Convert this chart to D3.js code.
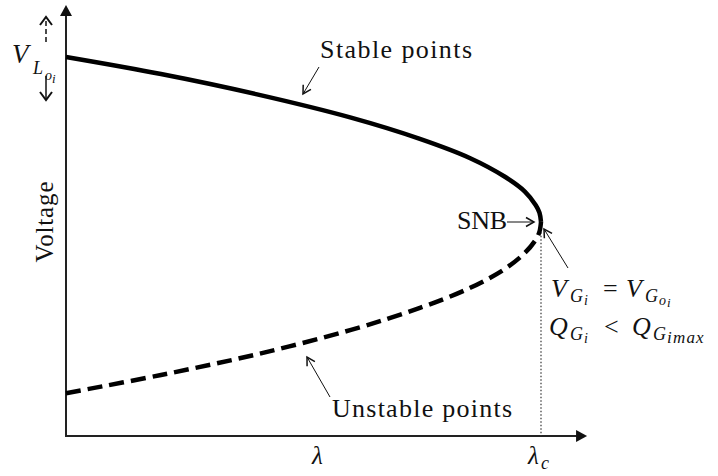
<!DOCTYPE html>
<html>
<head>
<meta charset="utf-8">
<script src="https://cdn.jsdelivr.net/npm/d3@7"></script>
<style>
  body { margin: 0; background: #fff; }
  svg { display: block; font-family: "Liberation Serif", "DejaVu Serif", serif; }
</style>
</head>
<body>
<svg id="chart" width="718" height="476"></svg>
<script>
// upper (stable) branch of the PV curve
var lambdaStable  = [0, 0.2, 0.4, 0.6, 0.745, 0.851, 0.924, 0.966, 0.989, 0.9968, 1.0];
var voltageStable = [1.0, 0.955, 0.902, 0.840, 0.784, 0.733, 0.684, 0.645, 0.609, 0.589, 0.565];
// lower (unstable) branch
var lambdaUnstable  = [0, 0.2, 0.4, 0.6, 0.745, 0.851, 0.924, 0.966, 0.989, 0.9968, 1.0];
var voltageUnstable = [0.113, 0.161, 0.215, 0.280, 0.338, 0.391, 0.441, 0.483, 0.518, 0.539, 0.565];
// critical loading point
var lambdaC = 1.0;
var axisMax = { lambda: 1.097, voltage: 1.137 };

var svg = d3.select("#chart"),
    margin = {left: 66, bottom: 40},
    x0 = margin.left,
    y0 = +svg.attr("height") - margin.bottom;

var x = d3.scaleLinear().domain([0, lambdaC]).range([x0, 541]);
var y = d3.scaleLinear().domain([0, 1]).range([y0, 57]);

var stable = lambdaStable.map(function(l, i) { return {l: l, v: voltageStable[i]}; });
var unstable = lambdaUnstable.map(function(l, i) { return {l: l, v: voltageUnstable[i]}; });
var nose = stable[stable.length - 1];

var defs = svg.append("defs");
defs.append("marker")
    .attr("id", "open")
    .attr("viewBox", "-10 -6 12 12")
    .attr("refX", 0).attr("refY", 0)
    .attr("markerWidth", 12).attr("markerHeight", 12)
    .attr("markerUnits", "userSpaceOnUse")
    .attr("orient", "auto")
  .append("path")
    .attr("d", "M-8,-4.5L0,0L-8,4.5")
    .attr("fill", "none")
    .attr("stroke", "#111")
    .attr("stroke-width", 1.5);
defs.append("marker")
    .attr("id", "openBig")
    .attr("viewBox", "-10 -7 12 14")
    .attr("refX", 0).attr("refY", 0)
    .attr("markerWidth", 12).attr("markerHeight", 14)
    .attr("markerUnits", "userSpaceOnUse")
    .attr("orient", "auto")
  .append("path")
    .attr("d", "M-8,-6L0,0L-8,6")
    .attr("fill", "none")
    .attr("stroke", "#111")
    .attr("stroke-width", 2);

// axes with filled arrow heads
svg.append("line")
    .attr("x1", x(0)).attr("y1", y0 + 1)
    .attr("x2", x(0)).attr("y2", y(axisMax.voltage) + 8)
    .attr("stroke", "#222").attr("stroke-width", 2);
svg.append("line")
    .attr("x1", x(0) - 1).attr("y1", y0)
    .attr("x2", x(axisMax.lambda) - 8).attr("y2", y0)
    .attr("stroke", "#222").attr("stroke-width", 2);
var ty = y(axisMax.voltage), tx = x(axisMax.lambda);
svg.append("path")
    .attr("d", "M" + x(0) + "," + ty + "L" + (x(0) - 6) + "," + (ty + 11) + "L" + (x(0) + 6) + "," + (ty + 11) + "Z")
    .attr("fill", "#111");
svg.append("path")
    .attr("d", "M" + tx + "," + y0 + "L" + (tx - 11) + "," + (y0 - 6) + "L" + (tx - 11) + "," + (y0 + 6) + "Z")
    .attr("fill", "#111");

// dotted drop line at lambda_c
svg.append("line")
    .attr("x1", x(lambdaC)).attr("y1", y(nose.v))
    .attr("x2", x(lambdaC)).attr("y2", y0)
    .attr("stroke", "#333").attr("stroke-width", 1.2)
    .attr("stroke-dasharray", "1.5,2");

var line = d3.line()
    .x(function(d) { return x(d.l); })
    .y(function(d) { return y(d.v); })
    .curve(d3.curveCatmullRom.alpha(0.5));

svg.append("path")
    .datum(stable)
    .attr("d", line)
    .attr("fill", "none")
    .attr("stroke", "#000")
    .attr("stroke-width", 4.5);

svg.append("path")
    .datum(unstable)
    .attr("d", line)
    .attr("fill", "none")
    .attr("stroke", "#000")
    .attr("stroke-width", 4.5)
    .attr("stroke-dasharray", "15,7");

// annotation arrows
function arrow(x1, y1, x2, y2, marker, w, dash) {
  svg.append("line")
      .attr("x1", x1).attr("y1", y1).attr("x2", x2).attr("y2", y2)
      .attr("stroke", "#111").attr("stroke-width", w)
      .attr("stroke-dasharray", dash || null)
      .attr("marker-end", "url(#" + marker + ")");
}
arrow(319, 67, 303, 94, "open", 1);
arrow(330, 397, 307, 357, "open", 1);
arrow(507, 222, 534, 222, "open", 1);
arrow(568, 268, 544, 229, "open", 1);
arrow(46, 42, 46, 17, "openBig", 1.5, "5,3");
arrow(46, 76, 46, 100, "openBig", 1.5);

var txt = svg.append("g").attr("fill", "#111");

txt.append("text").attr("x", 320).attr("y", 58)
    .attr("font-size", 26).attr("textLength", 152).attr("lengthAdjust", "spacing")
    .text("Stable points");
txt.append("text").attr("x", 332).attr("y", 417)
    .attr("font-size", 26).attr("textLength", 180).attr("lengthAdjust", "spacing")
    .text("Unstable points");
txt.append("text").attr("x", 457).attr("y", 229)
    .attr("font-size", 26).attr("textLength", 50).attr("lengthAdjust", "spacing")
    .text("SNB");
txt.append("text")
    .attr("transform", "translate(53,222) rotate(-90)")
    .attr("text-anchor", "middle")
    .attr("font-size", 25).attr("textLength", 81).attr("lengthAdjust", "spacing")
    .text("Voltage");

// math labels: each piece placed at its own spot
function math(parts) {
  var t = txt.append("text");
  parts.forEach(function(p) {
    t.append("tspan")
        .attr("x", p.x).attr("y", p.y)
        .attr("font-size", p.s)
        .attr("font-style", p.it === false ? "normal" : "italic")
        .attr("letter-spacing", p.ls || null)
        .text(p.t);
  });
}
math([
  {t: "V", x: 12, y: 63, s: 27},
  {t: "L", x: 33, y: 74, s: 18},
  {t: "o", x: 45, y: 80, s: 14},
  {t: "i", x: 52, y: 83, s: 13}
]);
math([
  {t: "V", x: 551, y: 297, s: 26},
  {t: "G", x: 570, y: 302, s: 18},
  {t: "i", x: 584, y: 305, s: 14},
  {t: "=", x: 603, y: 297, s: 26, it: false},
  {t: "V", x: 626, y: 297, s: 26},
  {t: "G", x: 645, y: 302, s: 18},
  {t: "o", x: 659, y: 305, s: 14},
  {t: "i", x: 667, y: 307, s: 13}
]);
math([
  {t: "Q", x: 549, y: 335, s: 26},
  {t: "G", x: 570, y: 340, s: 18},
  {t: "i", x: 584, y: 343, s: 14},
  {t: "<", x: 604, y: 335, s: 26, it: false},
  {t: "Q", x: 632, y: 335, s: 26},
  {t: "G", x: 653, y: 340, s: 18},
  {t: "imax", x: 667, y: 343, s: 17, ls: 1.2}
]);
math([{t: "λ", x: 312, y: 464, s: 25}]);
math([
  {t: "λ", x: 528, y: 464, s: 25},
  {t: "c", x: 541, y: 469, s: 18}
]);
</script>
</body>
</html>
